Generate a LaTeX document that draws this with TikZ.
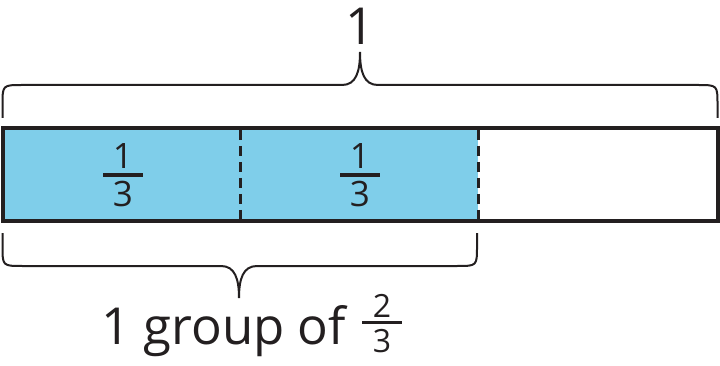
\documentclass[tikz,border=0pt]{standalone}
\usepackage{fontspec}
\setmainfont{Open Sans}
\definecolor{ink}{HTML}{231F20}
\definecolor{barblue}{HTML}{7FCEEA}
\begin{document}
\begin{tikzpicture}[x=1pt,y=-1pt,
  bracestyle/.style={draw=ink,line width=2pt},
  numtxt/.style={inner sep=0pt,anchor=base,text=ink,font=\fontsize{35}{40}\selectfont},
  smalltxt/.style={inner sep=0pt,anchor=base,text=ink,font=\fontsize{32}{36}\selectfont},
  bigtxt/.style={inner sep=0pt,anchor=base,text=ink,font=\fontsize{51}{60}\selectfont},
  fracbar/.style={draw=ink,line width=3.3pt},
  divline/.style={draw=ink,line width=3pt,dash pattern=on 10pt off 6pt}]
\useasboundingbox (0,0) rectangle (720,366);
% fill
\fill[barblue] (2.5,128) rectangle (478,221);
% dividers
\draw[divline] (240,130) -- (240,219);
\draw[divline] (478,130) -- (478,219);
% outline
\draw[draw=ink,line width=4pt] (2.5,128) rectangle (717.5,221);
% fractions inside
\node[numtxt] (n1) at (123,169) {1};
\node[numtxt] (d1) at (123,207) {3};
\draw[fracbar] (103,175) -- (143,175);
\node[numtxt] (n2) at (360,169) {1};
\node[numtxt] (d2) at (360,207) {3};
\draw[fracbar] (340,175) -- (380,175);
% top brace
\draw[bracestyle] (2.5,118) -- (2.5,105) .. controls (2.5,85) .. (22.5,85) -- (342,85)
  .. controls (356,85) and (360,72) .. (360,52)
  .. controls (360,72) and (364,85) .. (378,85) -- (697.5,85)
  .. controls (717.5,85) .. (717.5,105) -- (717.5,118);
\node[bigtxt] (one) at (360,45) {1};
% bottom brace
\draw[bracestyle] (2.5,233) -- (2.5,246) .. controls (2.5,266) .. (22.5,266) -- (221,266)
  .. controls (235,266) and (239,279) .. (239,298)
  .. controls (239,279) and (243,266) .. (257,266) -- (457,266)
  .. controls (477,266) .. (477,246) -- (477,233);
\node[bigtxt,anchor=base west] (lbl) at (101,344) {1 group of};
\node[smalltxt] (n3) at (382,317) {2};
\node[smalltxt] (d3) at (382,352) {3};
\draw[fracbar,line width=3pt] (362,322) -- (402,322);
\end{tikzpicture}
\end{document}
